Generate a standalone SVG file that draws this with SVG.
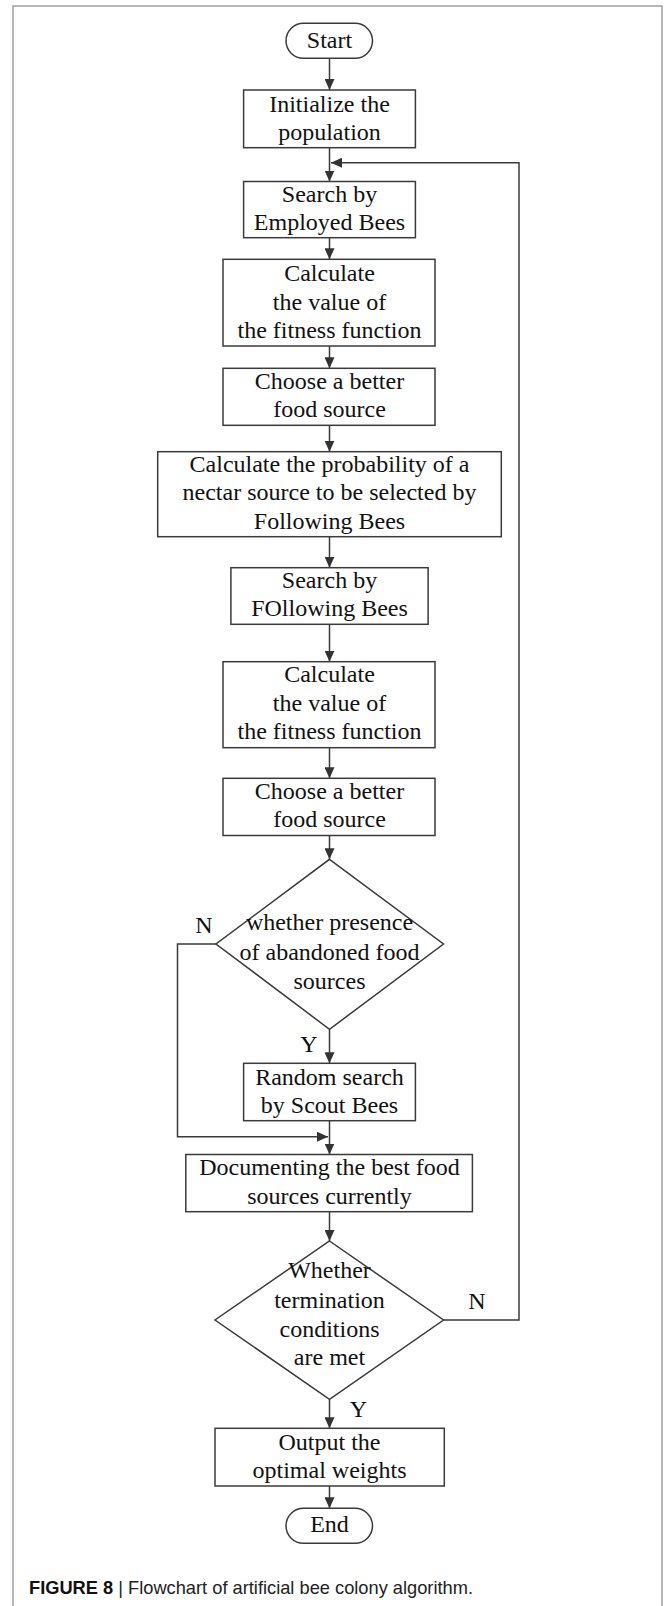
<svg xmlns="http://www.w3.org/2000/svg" width="665" height="1606" viewBox="0 0 665 1606">
<style>
.box{fill:#fff;stroke:#3a3a3a;stroke-width:1.5}
.t{font-family:"Liberation Serif","Times New Roman",serif;font-size:24px;fill:#111;text-anchor:middle}
.lbl{font-family:"Liberation Serif","Times New Roman",serif;font-size:24px;fill:#111;text-anchor:middle}
.c{fill:none;stroke:#3a3a3a;stroke-width:1.5}
.cap{font-family:"Liberation Sans",Arial,sans-serif;font-size:18.5px;fill:#222}
</style>
<defs>
<marker id="ah" viewBox="0 0 11 10" refX="11" refY="5" markerWidth="11" markerHeight="10" markerUnits="userSpaceOnUse" orient="auto">
<path d="M0,0 L11,5 L0,10 z" fill="#333"/>
</marker>
</defs>
<rect x="0" y="0" width="665" height="1606" fill="#fff"/>
<rect x="13" y="6" width="649" height="1700" fill="none" stroke="#a0a0a0" stroke-width="1.5"/>

<g id="connectors">
<path class="c" d="M329.5,58.3 V90" marker-end="url(#ah)"/>
<path class="c" d="M329.5,147.7 V181.5" marker-end="url(#ah)"/>
<path class="c" d="M329.5,237.7 V259.3" marker-end="url(#ah)"/>
<path class="c" d="M329.5,346 V368.3" marker-end="url(#ah)"/>
<path class="c" d="M329.5,425.3 V451.7" marker-end="url(#ah)"/>
<path class="c" d="M329.5,536.7 V567.7" marker-end="url(#ah)"/>
<path class="c" d="M329.5,624.3 V661.7" marker-end="url(#ah)"/>
<path class="c" d="M329.5,747.7 V778.3" marker-end="url(#ah)"/>
<path class="c" d="M329.5,835.5 V859.3" marker-end="url(#ah)"/>
<path class="c" d="M329.5,1029.3 V1063.3" marker-end="url(#ah)"/>
<path class="c" d="M216,944 H177.5 V1136.7 H328" marker-end="url(#ah)"/>
<path class="c" d="M329.5,1120.7 V1154.5" marker-end="url(#ah)"/>
<path class="c" d="M329.5,1211.7 V1241" marker-end="url(#ah)"/>
<path class="c" d="M329.5,1399.3 V1428.3" marker-end="url(#ah)"/>
<path class="c" d="M329.5,1486 V1508.3" marker-end="url(#ah)"/>
<path class="c" d="M443.5,1320 H519 V162.7 H331" marker-end="url(#ah)"/>
<text class="lbl" x="204" y="933">N</text>
<text class="lbl" x="309" y="1051.7">Y</text>
<text class="lbl" x="477" y="1308.5">N</text>
<text class="lbl" x="358.4" y="1416.7">Y</text>
</g>

<g id="start">
<rect class="box" x="286" y="23.3" width="86.5" height="35" rx="17.5"/>
<text class="t" x="329.5" y="47.8">Start</text>
</g>
<g id="init">
<rect class="box" x="243.6" y="90" width="171.8" height="57.7"/>
<text class="t" x="329.5" y="111.5">Initialize the</text>
<text class="t" x="329.5" y="139.7">population</text>
</g>
<g id="search-employed">
<rect class="box" x="243.6" y="181.5" width="171.8" height="56.2"/>
<text class="t" x="329.5" y="201.7">Search by</text>
<text class="t" x="329.5" y="230">Employed Bees</text>
</g>
<g id="calc1">
<rect class="box" x="223" y="259.3" width="212" height="86.7"/>
<text class="t" x="329.5" y="281.2">Calculate</text>
<text class="t" x="329.5" y="309.5">the value of</text>
<text class="t" x="329.5" y="337.8">the fitness function</text>
</g>
<g id="choose1">
<rect class="box" x="223" y="368.3" width="212" height="57"/>
<text class="t" x="329.5" y="388.5">Choose a better</text>
<text class="t" x="329.5" y="416.8">food source</text>
</g>
<g id="calc-prob">
<rect class="box" x="157.7" y="451.7" width="343.6" height="85"/>
<text class="t" x="329.5" y="472">Calculate the probability of a</text>
<text class="t" x="329.5" y="500.3">nectar source to be selected by</text>
<text class="t" x="329.5" y="528.6">Following Bees</text>
</g>
<g id="search-following">
<rect class="box" x="230.9" y="567.7" width="197.2" height="56.6"/>
<text class="t" x="329.5" y="587.5">Search by</text>
<text class="t" x="329.5" y="615.8">FOllowing Bees</text>
</g>
<g id="calc2">
<rect class="box" x="223" y="661.7" width="212" height="86"/>
<text class="t" x="329.5" y="682">Calculate</text>
<text class="t" x="329.5" y="710.5">the value of</text>
<text class="t" x="329.5" y="739">the fitness function</text>
</g>
<g id="choose2">
<rect class="box" x="223" y="778.3" width="212" height="57.2"/>
<text class="t" x="329.5" y="798.7">Choose a better</text>
<text class="t" x="329.5" y="827">food source</text>
</g>
<g id="decision-abandoned">
<polygon class="box" points="329.5,859.3 443.5,944 329.5,1029.3 216,944"/>
<text class="t" x="329.5" y="930">whether presence</text>
<text class="t" x="329.5" y="959.5">of abandoned food</text>
<text class="t" x="329.5" y="988.5">sources</text>
</g>
<g id="random-search">
<rect class="box" x="243.6" y="1063.3" width="171.8" height="57.4"/>
<text class="t" x="329.5" y="1084.7">Random search</text>
<text class="t" x="329.5" y="1113">by Scout Bees</text>
</g>
<g id="documenting">
<rect class="box" x="185.8" y="1154.5" width="286.6" height="57.2"/>
<text class="t" x="329.5" y="1175.2">Documenting the best food</text>
<text class="t" x="329.5" y="1203.5">sources currently</text>
</g>
<g id="decision-termination">
<polygon class="box" points="329.5,1241 443.5,1320 329.5,1399.3 215,1320"/>
<text class="t" x="329.5" y="1278.3">Whether</text>
<text class="t" x="329.5" y="1307.5">termination</text>
<text class="t" x="329.5" y="1336.5">conditions</text>
<text class="t" x="329.5" y="1365">are met</text>
</g>
<g id="output">
<rect class="box" x="215" y="1428.3" width="229.3" height="57.7"/>
<text class="t" x="329.5" y="1449.6">Output the</text>
<text class="t" x="329.5" y="1477.5">optimal weights</text>
</g>
<g id="end">
<rect class="box" x="286" y="1508.3" width="86.5" height="35" rx="17.5"/>
<text class="t" x="329.5" y="1532">End</text>
</g>
<text class="cap" x="29" y="1593.5" textLength="444" lengthAdjust="spacingAndGlyphs"><tspan font-weight="bold" fill="#111">FIGURE 8</tspan> | Flowchart of artificial bee colony algorithm.</text>
</svg>
